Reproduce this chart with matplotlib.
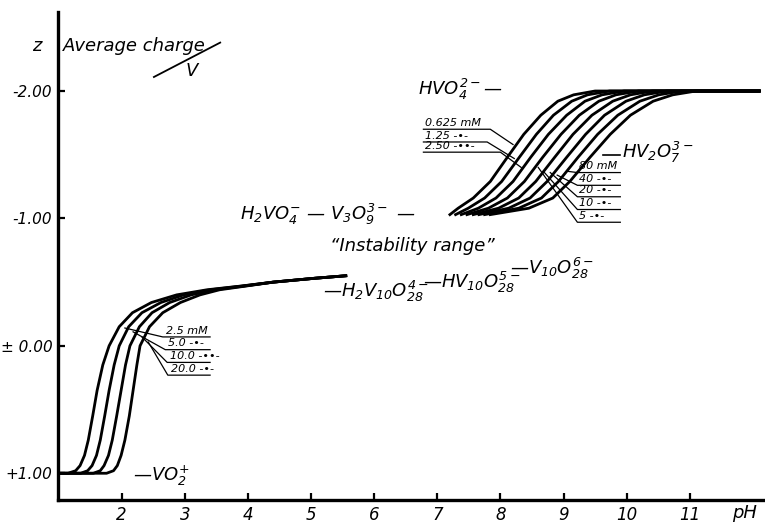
import matplotlib
matplotlib.use('Agg')
import matplotlib.pyplot as plt

plt.rcParams['font.family'] = 'DejaVu Sans'
plt.rcParams['font.style'] = 'italic'
plt.rcParams['mathtext.fontset'] = 'custom'
plt.rcParams['mathtext.rm'] = 'DejaVu Sans:italic'
plt.rcParams['mathtext.it'] = 'DejaVu Sans:italic'

# --- acid side: average charge z vs pH for 2.5 .. 20 mM V ---
z_low = [1.00, 1.00, 0.98, 0.94, 0.86, 0.74, 0.55, 0.35, 0.15, 0.00, -0.15, -0.26,
         -0.34, -0.40, -0.44, -0.47, -0.50, -0.53, -0.55]
ph_low_2p5 = [0.99, 1.15, 1.27, 1.34, 1.41, 1.47, 1.54, 1.61, 1.70, 1.80, 1.96, 2.17,
              2.47, 2.87, 3.35, 3.90, 4.40, 5.05, 5.55]
ph_low_5 = [0.99, 1.35, 1.46, 1.53, 1.60, 1.66, 1.73, 1.80, 1.88, 1.96, 2.11, 2.32,
            2.62, 2.98, 3.40, 3.92, 4.40, 5.05, 5.55]
ph_low_10 = [0.99, 1.55, 1.66, 1.72, 1.79, 1.85, 1.92, 1.99, 2.06, 2.13, 2.28, 2.48,
             2.76, 3.10, 3.47, 3.95, 4.40, 5.05, 5.55]
ph_low_20 = [0.99, 1.76, 1.87, 1.93, 1.99, 2.05, 2.12, 2.18, 2.24, 2.29, 2.44, 2.65,
             2.93, 3.24, 3.55, 3.98, 4.40, 5.05, 5.55]
low_labels = ['2.5 mM', '5.0 -•-', '10.0 -••-', '20.0 -•-']

# --- alkaline side: 0.625 .. 80 mM V ---
z_up = [-1.03, -1.08, -1.16, -1.29, -1.48, -1.66, -1.81, -1.92, -1.97, -2.00, -2.00]
ph_up_0625 = [7.20, 7.33, 7.57, 7.84, 8.11, 8.37, 8.64, 8.91, 9.16, 9.50, 12.1]
ph_up_125 = [7.29, 7.49, 7.75, 8.02, 8.30, 8.57, 8.84, 9.13, 9.38, 9.73, 12.1]
ph_up_25 = [7.38, 7.65, 7.93, 8.20, 8.48, 8.76, 9.05, 9.34, 9.61, 9.96, 12.1]
ph_up_5 = [7.47, 7.81, 8.11, 8.38, 8.67, 8.96, 9.25, 9.56, 9.83, 10.19, 12.1]
ph_up_10 = [7.57, 7.97, 8.29, 8.56, 8.86, 9.15, 9.45, 9.78, 10.06, 10.41, 12.1]
ph_up_20 = [7.66, 8.13, 8.47, 8.74, 9.05, 9.35, 9.65, 9.99, 10.28, 10.64, 12.1]
ph_up_40 = [7.75, 8.29, 8.65, 8.92, 9.23, 9.54, 9.86, 10.21, 10.51, 10.87, 12.1]
ph_up_80 = [7.84, 8.45, 8.83, 9.10, 9.42, 9.74, 10.06, 10.42, 10.73, 11.10, 12.1]
up_left_labels = ['0.625 mM', '1.25 -•-', '2.50 -••-']
up_right_labels = ['80 mM', '40 -•-', '20 -•-', '10 -•-', '5 -•-']

x_ticks = [2, 3, 4, 5, 6, 7, 8, 9, 10, 11]
y_ticks = [-2, -1, 0, 1]
y_ticklabels = ['-2.00', '-1.00', '± 0.00', '+1.00']

fig = plt.figure(figsize=(7.65, 5.27), dpi=100)
ax = fig.add_axes([0.0758, 0.0512, 0.924, 0.926])

for ph in [ph_low_2p5, ph_low_5, ph_low_10, ph_low_20]:
    ax.plot(ph, z_low, color='black', lw=2.0, solid_joinstyle='round')
for ph in [ph_up_0625, ph_up_125, ph_up_25, ph_up_5, ph_up_10, ph_up_20, ph_up_40, ph_up_80]:
    ax.plot(ph, z_up, color='black', lw=2.0, solid_joinstyle='round')

ax.set_xlim(0.99, 12.19)
ax.set_ylim(1.21, -2.62)
for s in ['top', 'right']:
    ax.spines[s].set_visible(False)
for s in ['left', 'bottom']:
    ax.spines[s].set_linewidth(2.4)
ax.set_xticks(x_ticks)
ax.set_xticklabels([str(t) for t in x_ticks], fontsize=12)
ax.set_yticks(y_ticks)
ax.set_yticklabels(y_ticklabels, fontsize=11)
ax.tick_params(axis='x', direction='in', length=5, width=1.6, pad=4)
ax.tick_params(axis='y', direction='in', length=5, width=1.6, pad=4)

lk = dict(color='black', lw=0.9)

# leader lines and underlines, acid side
low_leaders = [((2.05, -0.14), (2.65, -0.07)), ((2.18, -0.11), (2.69, 0.03)),
               ((2.32, -0.07), (2.72, 0.13)), ((2.42, -0.03), (2.73, 0.23))]
for lab, (p0, p1) in zip(low_labels, low_leaders):
    ax.plot([p0[0], p1[0], 3.40], [p0[1], p1[1], p1[1]], **lk)
    ax.text(p1[0] + 0.05, p1[1] - 0.01, lab, fontsize=8, ha='left', va='bottom')

# alkaline side, left labels: underline then leader down to the curve
up_left_y = [-1.70, -1.60, -1.52]
up_left_end = [7.84, 7.79, 8.00]
up_left_to = [(8.20, -1.58), (8.22, -1.47), (8.33, -1.40)]
for lab, yy, xe, p1 in zip(up_left_labels, up_left_y, up_left_end, up_left_to):
    ax.plot([6.78, xe, p1[0]], [yy, yy, p1[1]], **lk)
    ax.text(6.80, yy - 0.01, lab, fontsize=8, ha='left', va='bottom')

# alkaline side, right labels
up_right_y = [-1.36, -1.26, -1.17, -1.07, -0.97]
up_right_from = [(9.06, -1.37), (8.90, -1.34), (8.79, -1.36), (8.68, -1.37), (8.60, -1.40)]
for lab, yy, p0 in zip(up_right_labels, up_right_y, up_right_from):
    ax.plot([p0[0], 9.22, 9.90], [p0[1], yy, yy], **lk)
    ax.text(9.25, yy - 0.01, lab, fontsize=8, ha='left', va='bottom')

# species annotations
sp = dict(fontsize=13, ha='left', va='center')
ax.text(6.70, -2.01, r'$HVO_4^{2-}$—', **sp)
ax.plot([9.63, 9.90], [-1.50, -1.50], color='black', lw=1.2)
ax.text(9.93, -1.52, r'$HV_2O_7^{3-}$', **sp)
ax.text(3.88, -1.03, r'$H_2VO_4^{-}$ — $V_3O_9^{3-}$ —', **sp)
ax.text(6.60, -0.78, '“Instability range”', fontsize=13, ha='center', va='center')
ax.text(5.19, -0.43, r'—$H_2V_{10}O_{28}^{4-}$', **sp)
ax.text(6.78, -0.50, r'—$HV_{10}O_{28}^{5-}$', **sp)
ax.text(8.15, -0.61, r'—$V_{10}O_{28}^{6-}$', **sp)
ax.text(2.18, 1.02, r'—$VO_2^{+}$', **sp)

# axis captions
ax.text(0.66, -2.35, 'z', fontsize=13, ha='center', va='center', clip_on=False)
ax.text(1.07, -2.35, 'Average charge', fontsize=13, ha='left', va='center')
ax.plot([2.51, 3.56], [-2.11, -2.38], color='black', lw=1.3)
ax.text(3.11, -2.16, 'V', fontsize=13, ha='center', va='center')
ax.text(11.87, 1.31, 'pH', fontsize=13, ha='center', va='center', clip_on=False)

fig.savefig('out.png', dpi=100)
